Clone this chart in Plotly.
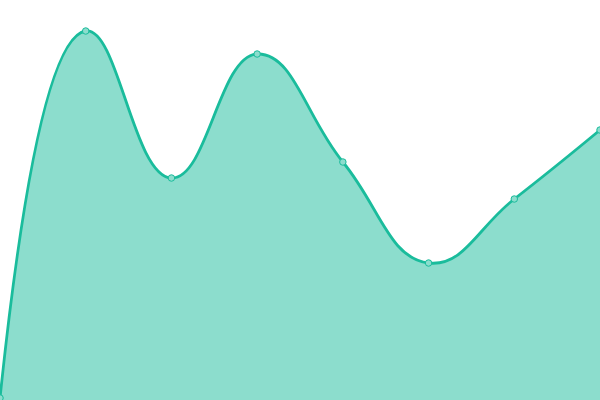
import plotly.graph_objects as go

x_vals = [0, 1, 2, 3, 4, 5, 6, 7]
y_vals = [2, 369, 222, 346, 238, 137, 201, 270]

fig = go.Figure(go.Scatter(
    x=x_vals, y=y_vals, mode="lines+markers",
    line=dict(color="#1abc9c", width=2.8, shape="spline", smoothing=1.3),
    fill="tozeroy", fillcolor="rgba(26,188,156,0.5)",
    marker=dict(size=6.5, color="#8cddcd", line=dict(color="#1abc9c", width=1)),
    cliponaxis=False, hoverinfo="skip",
))
fig.update_layout(
    width=600, height=400, margin=dict(l=0, r=0, t=0, b=0),
    paper_bgcolor="white", plot_bgcolor="white", showlegend=False,
    xaxis=dict(range=[0, 7], visible=False),
    yaxis=dict(range=[0, 400], visible=False),
)
fig.write_html("out.html", config={"displayModeBar": False},
               post_script="document.body.style.margin='0';document.body.style.overflow='hidden';")
